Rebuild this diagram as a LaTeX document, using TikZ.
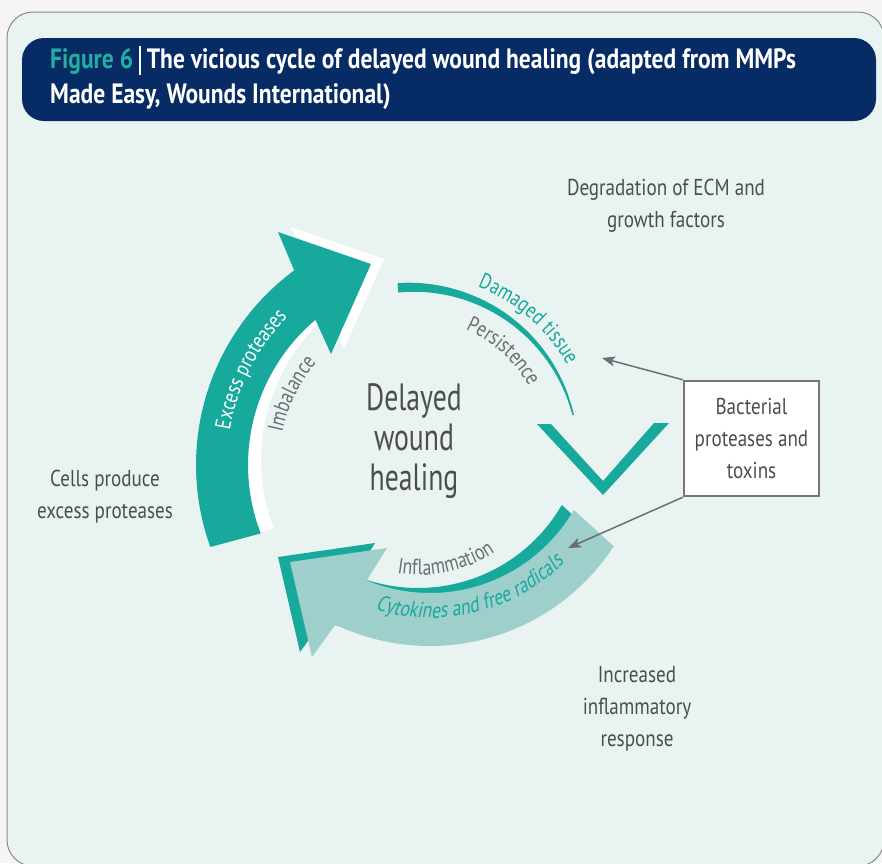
\documentclass[tikz,border=0pt]{standalone}
\usepackage{fontspec}
\setmainfont[FakeStretch=0.81]{PT Sans}
\newfontfamily\headfont[FakeStretch=0.84]{PT Sans}
\newfontfamily\centrefont[FakeStretch=0.73]{PT Sans}
\newfontfamily\bodyfont[FakeStretch=0.83]{PT Sans}
\newfontfamily\slantfont[FakeStretch=0.81,FakeSlant=0.18]{PT Sans}
\usetikzlibrary{decorations.text,arrows.meta}
\definecolor{outbg}{HTML}{F5F5F5}
\definecolor{panelbg}{HTML}{E9F3F1}
\definecolor{panelline}{HTML}{8A8A8A}
\definecolor{navy}{HTML}{062B65}
\definecolor{teal1}{HTML}{18A99D}
\definecolor{teallight}{HTML}{9ECFCA}
\definecolor{figteal}{HTML}{22AFA0}
\definecolor{txt}{HTML}{4D4D4F}
\definecolor{lbl}{HTML}{6D6E71}
\definecolor{boxgray}{HTML}{777777}
\tikzset{
  bodytext/.style={text=txt, align=center, font=\bodyfont\fontsize{23}{32}\selectfont, inner sep=0pt},
  titletext/.style={anchor=base west, inner sep=0pt, text=white, font=\headfont\fontsize{28}{33}\selectfont\bfseries},
  garrow/.style={draw=lbl, line width=1.5pt, -{Stealth[length=13pt,width=10pt,inset=3pt]}},
}
\begin{document}
\begin{tikzpicture}[x=1pt,y=-1pt]
\useasboundingbox (0,0) rectangle (882,863);
\fill[outbg] (0,0) rectangle (882,863);
% panel
\draw[draw=panelline, line width=1pt, fill=panelbg, rounded corners=26pt] (7,12) rectangle (884,866);
% header
\fill[navy, rounded corners=22pt] (22,38) rectangle (876,121);
\node[titletext] (title1) at (50,68)
  {\textcolor{figteal}{Figure 6}\kern6pt\rule[-7pt]{1.6pt}{29pt}\kern6pt The vicious cycle of delayed wound healing (adapted from MMPs};
\node[titletext] (title2) at (50,103)
  {Made Easy, Wounds International)};

% left arrow: white shadow + teal
\fill[white, shift={(13,-5)}] plot[domain=160.2:233.55,samples=50] ({438+242*cos(\x)},{465+242*sin(\x)})
  -- (278,232) -- (371,264) -- (331,354) -- (315,319)
  -- plot[domain=229.9:158.9,samples=50] ({438+190*cos(\x)},{465+190*sin(\x)}) -- cycle;
\fill[teal1] plot[domain=160.2:233.55,samples=50] ({438+242*cos(\x)},{465+242*sin(\x)})
  -- (278,232) -- (371,264) -- (331,354) -- (315,319)
  -- plot[domain=229.9:158.9,samples=50] ({438+190*cos(\x)},{465+190*sin(\x)}) -- cycle;

% bottom arrow: dark teal shadow + light teal
\fill[teal1, shift={(-12,-5)}] plot[domain=30:112.4,samples=50] ({430+166*cos(\x)},{427+166*sin(\x)})
  -- (387,548) -- (290,562) -- (312,657) -- (335,625)
  -- plot[domain=115.6:33,samples=50] ({430+219*cos(\x)},{427+219*sin(\x)}) -- cycle;
\fill[teallight] plot[domain=30:112.4,samples=50] ({430+166*cos(\x)},{427+166*sin(\x)})
  -- (387,548) -- (290,562) -- (312,657) -- (335,625)
  -- plot[domain=115.6:33,samples=50] ({430+219*cos(\x)},{427+219*sin(\x)}) -- cycle;

% damaged tissue crescent
\fill[teal1] plot[domain=265.5:346.5,samples=50] ({411+(171.5-4*(\x-265.5)/81)*cos(\x)},{454+(171.5-4*(\x-265.5)/81)*sin(\x)})
  -- plot[domain=346.5:265.5,samples=50] ({411+(162+4*(\x-265.5)/81)*cos(\x)},{454+(162+4*(\x-265.5)/81)*sin(\x)}) -- cycle;
% chevron
\fill[teal1] (537,424) -- (603,495) -- (669,423) -- (654,423) -- (603,481) -- (551,424) -- cycle;

% curved labels
\path[decorate, decoration={text along path, text align={align=center},
  text={|\fontsize{22}{26}\selectfont\color{white}|Excess proteases}}]
  plot[domain=170:244,samples=60] ({438+211*cos(\x)},{465+211*sin(\x)});
\path[decorate, decoration={text along path, text align={align=center},
  text={|\fontsize{22}{26}\selectfont\color{lbl}|Imbalance}}]
  plot[domain=176:236,samples=60] ({438+159*cos(\x)},{465+159*sin(\x)});
\path[decorate, decoration={text along path, text align={align=center},
  text={|\fontsize{22}{26}\selectfont\color{teal1}|Damaged tissue}}]
  plot[domain=-89:-9,samples=60] ({411+180*cos(\x)},{454+180*sin(\x)});
\path[decorate, decoration={text along path, text align={align=center},
  text={|\fontsize{22}{26}\selectfont\color{lbl}|Persistence}}]
  plot[domain=-88:-8,samples=60] ({411+136*cos(\x)},{454+136*sin(\x)});
\path[decorate, decoration={text along path, text align={align=center},
  text={|\fontsize{22}{26}\selectfont\color{lbl}|Inflammation}}]
  plot[domain=118:38,samples=60] ({420+135*cos(\x)},{440+135*sin(\x)});
\path[decorate, decoration={text along path, text align={align=center},
  text={|\slantfont\fontsize{22}{26}\selectfont\color{teal1}|Cytokines and free radicals}}]
  plot[domain=116:36,samples=60] ({430+191*cos(\x)},{427+191*sin(\x)});

% centre text
\node[text=txt, align=center, font=\centrefont\fontsize{38}{40}\selectfont, inner sep=0pt] (centre) at (414,441) {Delayed\\wound\\healing};

% outer texts
\node[bodytext] (degr) at (666,206) {Degradation of ECM and\\growth factors};
\node[bodytext] (cells) at (105,497) {Cells produce\\excess proteases};
\node[bodytext] (infl) at (637,709) {Increased\\inflammatory\\response};

% bacterial box
\node[draw=boxgray, line width=2.5pt, fill=white, minimum width=135pt, minimum height=115pt,
  align=center, text=txt, font=\bodyfont\fontsize{23}{32}\selectfont, inner sep=0pt] (bact) at (751.5,438.5)
  {Bacterial\\proteases and\\toxins};
\coordinate (tipA) at (602,358);
\coordinate (tipB) at (568,548);
\draw[garrow] (bact.north west) -- (tipA);
\draw[garrow] (bact.south west) -- (tipB);
\end{tikzpicture}
\end{document}
